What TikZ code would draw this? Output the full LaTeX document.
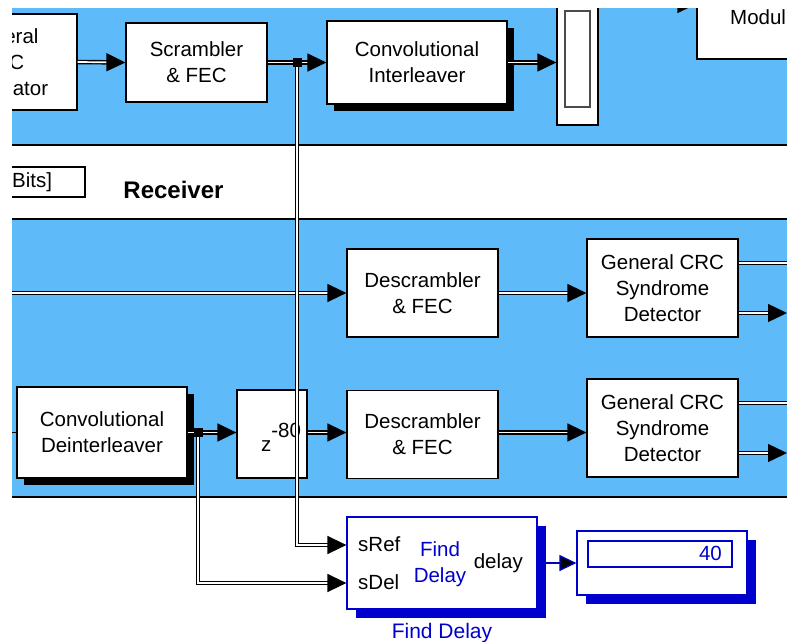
\documentclass[tikz,border=0pt]{standalone}
\usepackage{fontspec}
\setmainfont{Liberation Sans}
\usetikzlibrary{arrows.meta,positioning,shadows}
\definecolor{bandblue}{RGB}{95,186,250}
\definecolor{fdblue}{RGB}{0,0,204}
\begin{document}
\begin{tikzpicture}[x=1pt, y=-1pt, font=\fontsize{20.5}{26}\selectfont,
  blk/.style = {draw, fill=white, line width=1.2pt, align=center, inner sep=0pt},
  sblk/.style = {blk, drop shadow={shadow xshift=7pt, shadow yshift=-7pt, fill=black, opacity=1}},
  bblk/.style = {blk, draw=fdblue, drop shadow={shadow xshift=9pt, shadow yshift=-9pt, fill=fdblue, opacity=1}},
  wire/.style = {draw=black, double=white, double distance=1.7pt, line width=1.4pt},
  sig/.style = {wire, -{Triangle[length=19pt,width=18pt]}},
  jct/.style = {fill, rectangle, minimum size=9pt, inner sep=0pt},
  lbl/.style = {inner sep=0pt}]
\useasboundingbox (0,0) rectangle (787,642);
\clip (0,0) rectangle (787,642);
\fill[white] (0,0) rectangle (787,642);
\fill[bandblue] (12,8) rectangle (800,145);
\fill[bandblue] (12,219) rectangle (800,497);
\draw[line width=1.2pt] (12,145) -- (800,145) (12,219) -- (800,219) (12,497) -- (800,497);
\node[blk, minimum width=150pt, minimum height=96pt] (gen) at (2,62) {\phantom{Gen}eral\\\phantom{CR}C\\\phantom{Gener}ator};
\node[blk, minimum width=141pt, minimum height=79pt] (scr) at (196.5,62.5) {Scrambler\\\& FEC};
\node[sblk, minimum width=180pt, minimum height=83pt] (cint) at (417,62.5) {Convolutional\\Interleaver};
\node[blk, minimum width=41pt, minimum height=165pt] (buf) at (577.5,42.5) {};
\node[draw=black!70, line width=1.5pt, minimum width=25pt, minimum height=96pt, inner sep=0pt] (bufin) at (577.5,59) {};
\node[blk, minimum width=120pt, minimum height=100pt] (mod) at (757,9) {};
\node[lbl, anchor=west] (modtxt) at (730,17) {Modul};
\node[draw, line width=1.2pt, minimum width=115pt, minimum height=30pt] (bits) at (27.5,182) {};
\node[lbl, anchor=west] (bitstxt) at (12,182) {Bits]};
\node[font=\fontsize{24}{28}\selectfont\bfseries] (rx) at (173.5,190) {Receiver};
\node[blk, minimum width=151pt, minimum height=88pt] (dsc1) at (422.5,293) {Descrambler\\\& FEC};
\node[blk, minimum width=151pt, minimum height=98pt] (crc1) at (662.5,288) {General CRC\\Syndrome\\Detector};
\node[sblk, minimum width=170pt, minimum height=91pt] (cdi) at (102,432.5) {Convolutional\\Deinterleaver};
\node[blk, minimum width=70pt, minimum height=88pt] (zdel) at (272,434) {};
\node[lbl] (zlab) at (281,437) {z\raisebox{14pt}{-80}};
\node[blk, minimum width=151pt, minimum height=88pt] (dsc2) at (422.5,434.5) {Descrambler\\\& FEC};
\node[blk, minimum width=151pt, minimum height=98pt] (crc2) at (662.5,428) {General CRC\\Syndrome\\Detector};
\node[bblk, minimum width=190pt, minimum height=92pt] (fd) at (442,563) {};
\node[lbl, anchor=west] (sref) at (358,544) {sRef};
\node[lbl, anchor=west] (sdel) at (358,582) {sDel};
\node[lbl, text=fdblue, align=center] (fdname) at (440,564) {Find\\Delay};
\node[lbl, anchor=east] (dly) at (523,563) {delay};
\node[lbl, text=fdblue, font=\fontsize{21}{24}\selectfont, below=13pt of fd] (fdlab) {Find Delay};
\node[bblk, minimum width=170pt, minimum height=64pt] (disp) at (662,563) {};
\node[draw=fdblue, line width=1.2pt, minimum width=144pt, minimum height=26pt, inner sep=0pt] (dispin) at (660,554) {};
\node[lbl, anchor=east, text=fdblue] (val) at (722,553) {40};
\coordinate (modin) at (640,4);
\coordinate (rx1in) at (0,293);
\coordinate (rx2in) at (0,432.5);
\coordinate (c1a) at (800,263);
\coordinate (c1b) at (787,313);
\coordinate (c2a) at (800,403);
\coordinate (c2b) at (787,453);
\draw[sig] (gen.east) -- (scr.west);
\draw[sig] (scr.east) -- (cint.west);
\draw[sig] (cint.east) -- (cint.east -| buf.west);
\draw[sig] (modin) -- (modin -| mod.west);
\draw[sig] (rx1in) -- (dsc1.west);
\draw[sig] (dsc1.east) -- (dsc1.east -| crc1.west);
\draw[wire] (crc1.east |- c1a) -- (c1a);
\draw[sig] (crc1.east |- c1b) -- (c1b);
\draw[line width=1.2pt] (rx2in) -- (cdi.west);
\draw[sig] (cdi.east) -- (cdi.east -| zdel.west);
\draw[sig] (zdel.east |- cdi.east) -- (cdi.east -| dsc2.west);
\draw[sig] (dsc2.east |- cdi.east) -- (cdi.east -| crc2.west);
\draw[wire] (crc2.east |- c2a) -- (c2a);
\draw[sig] (crc2.east |- c2b) -- (c2b);
\node[jct] (jtop) at (297,62.5) {};
\node[jct] (jbot) at (198,432.5) {};
\draw[sig] (jtop.south) |- ([yshift=18pt]fd.west);
\draw[sig] (jbot.south) |- ([yshift=-20pt]fd.west);
\draw[draw=fdblue, line width=1.2pt, -{Triangle[length=17pt,width=16pt,fill=black]}] (fd.east) -- (disp.west);
\fill[white] (0,0) rectangle (787,8);
\fill[white] (0,0) rectangle (12,642);
\end{tikzpicture}
\end{document}
